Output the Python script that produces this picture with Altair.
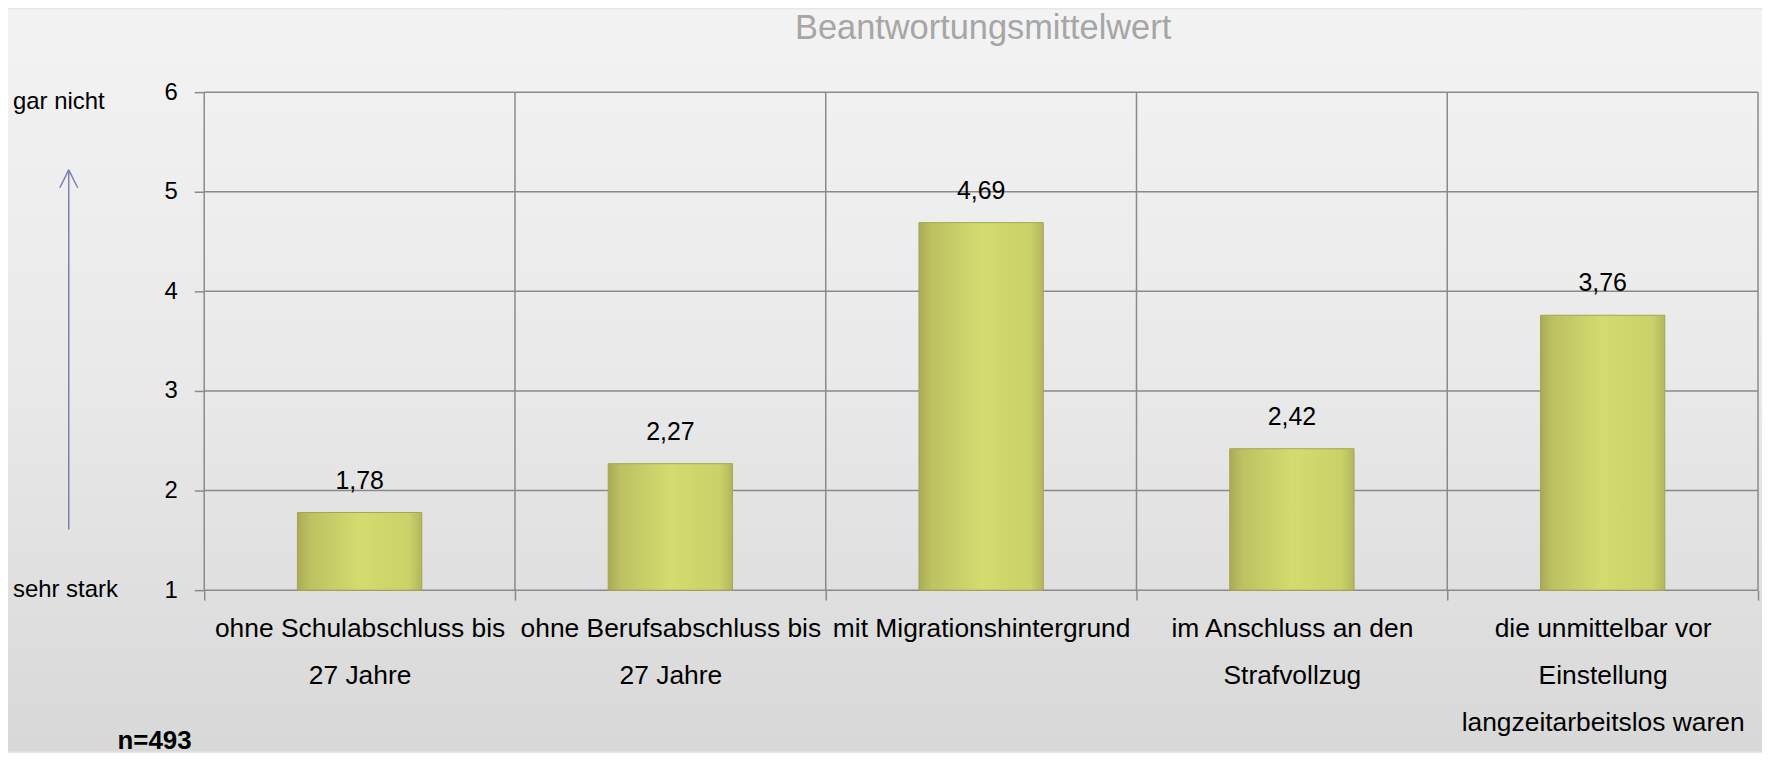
import altair as alt
import pandas as pd

# ---- data ----
categories = [
    "ohne Schulabschluss bis|27 Jahre",
    "ohne Berufsabschluss bis|27 Jahre",
    "mit Migrationshintergrund",
    "im Anschluss an den|Strafvollzug",
    "die unmittelbar vor|Einstellung|langzeitarbeitslos waren",
]
values = [1.78, 2.27, 4.69, 2.42, 3.76]
y_ticks = [1, 2, 3, 4, 5, 6]

# ---- layout ----
W, H = 1560, 500
PAD_L, PAD_T, PAD_R, PAD_B = 197, 83, 4, 162
GRID = "#8a8a8a"
FONT = "Liberation Sans"

df = pd.DataFrame({"cat": categories, "v": values})
grid_df = pd.DataFrame({"t": y_ticks})
one = pd.DataFrame({"a": [0]})

x_scale = alt.Scale(domain=categories, paddingInner=0, paddingOuter=0)
y_scale = alt.Scale(domain=[1, 6], nice=False, zero=False)

x_axis = alt.Axis(
    title=None, labelExpr="split(datum.label, '|')", labelFontSize=26.5,
    labelLineHeight=47, labelPadding=16, labelAngle=0, labelLimit=600,
    labelColor="#000000", labelFont=FONT, tickBand="extent", tickSize=10,
    tickColor=GRID, tickWidth=1.5, domain=False, grid=False, zindex=1,
)
y_axis = alt.Axis(
    title=None, values=y_ticks, format="d", labelFontSize=24, labelPadding=17,
    labelColor="#000000", labelFont=FONT, tickSize=10, tickColor=GRID,
    tickWidth=1.5, domain=False, grid=False, zindex=1,
)

bg_grad = alt.Gradient(
    gradient="linear", x1=0, x2=0, y1=0, y2=1,
    stops=[
        alt.GradientStop(color="#f3f3f3", offset=0),
        alt.GradientStop(color="#e9e9e9", offset=0.5),
        alt.GradientStop(color="#d8d8d8", offset=1),
    ],
)
bar_grad = alt.Gradient(
    gradient="linear", x1=0, x2=1, y1=0, y2=0,
    stops=[
        alt.GradientStop(color="#a9ab55", offset=0),
        alt.GradientStop(color="#bdc162", offset=0.1),
        alt.GradientStop(color="#d3dc6e", offset=0.5),
        alt.GradientStop(color="#cad168", offset=0.9),
        alt.GradientStop(color="#b3b65d", offset=1),
    ],
)

bg = alt.Chart(one).mark_rect(fill=bg_grad).encode(
    x=alt.value(-PAD_L), x2=alt.value(W + PAD_R),
    y=alt.value(-PAD_T), y2=alt.value(H + PAD_B),
)

hgrid = alt.Chart(grid_df).mark_rule(color=GRID, strokeWidth=1.5).encode(
    y=alt.Y("t:Q", scale=y_scale, axis=y_axis),
    x=alt.value(0), x2=alt.value(W),
)

vgrid = alt.Chart(df).mark_rule(color=GRID, strokeWidth=1.5).encode(
    x=alt.X("cat:N", scale=x_scale, axis=x_axis, bandPosition=0, sort=None),
    y=alt.value(0), y2=alt.value(H),
)

redge = alt.Chart(one).mark_rule(color=GRID, strokeWidth=1.5).encode(
    x=alt.value(W), y=alt.value(0), y2=alt.value(H),
)

bars = alt.Chart(df).mark_bar(
    width=alt.RelativeBandSize(0.4), fill=bar_grad, stroke="#a3a551", strokeWidth=1
).encode(
    x=alt.X("cat:N", scale=x_scale, axis=x_axis, sort=None),
    y=alt.Y("v:Q", scale=y_scale, axis=y_axis),
    y2=alt.datum(1),
)

vlabels = alt.Chart(df).transform_calculate(
    lbl="replace(format(datum.v, '.2f'), '.', ',')"
).mark_text(
    dy=-24, baseline="alphabetic", fontSize=25, font=FONT, color="#000000"
).encode(
    x=alt.X("cat:N", scale=x_scale, axis=x_axis, sort=None),
    y=alt.Y("v:Q", scale=y_scale, axis=y_axis),
    text="lbl:N",
)

title = alt.Chart(one).mark_text(
    text="Beantwortungsmittelwert", fontSize=34.5, font=FONT, color="#a6a6a6",
    align="center", baseline="alphabetic",
).encode(x=alt.value(W / 2 + 2), y=alt.value(-53))

top_lbl = alt.Chart(one).mark_text(
    text="gar nicht", fontSize=24, font=FONT, color="#000000", align="left", baseline="middle"
).encode(x=alt.value(-192), y=alt.value(10))

bot_lbl = alt.Chart(one).mark_text(
    text="sehr stark", fontSize=24, font=FONT, color="#000000", align="left", baseline="middle"
).encode(x=alt.value(-192), y=alt.value(500))

ARROW = "#7a82ae"
shaft = alt.Chart(one).mark_rule(color=ARROW, strokeWidth=1.5).encode(
    x=alt.value(-136), y=alt.value(78), y2=alt.value(439)
)
head1 = alt.Chart(one).mark_rule(color=ARROW, strokeWidth=1.5).encode(
    x=alt.value(-136), x2=alt.value(-145), y=alt.value(78), y2=alt.value(96)
)
head2 = alt.Chart(one).mark_rule(color=ARROW, strokeWidth=1.5).encode(
    x=alt.value(-136), x2=alt.value(-127), y=alt.value(78), y2=alt.value(96)
)

n_lbl = alt.Chart(one).mark_text(
    text="n=493", fontSize=26, font=FONT, fontWeight="bold", color="#000000",
    align="left", baseline="alphabetic",
).encode(x=alt.value(-87), y=alt.value(659))

chart = alt.layer(
    bg, hgrid, vgrid, redge, bars, vlabels, title, top_lbl, bot_lbl,
    shaft, head1, head2, n_lbl,
).properties(
    width=W, height=H,
    autosize=alt.AutoSizeParams(type="none"),
    padding={"left": PAD_L, "top": PAD_T, "right": PAD_R, "bottom": PAD_B},
    background="#e6e6e6",
).configure_view(stroke=None)

chart.save("out.html", embed_options={"renderer": "svg", "actions": False})
